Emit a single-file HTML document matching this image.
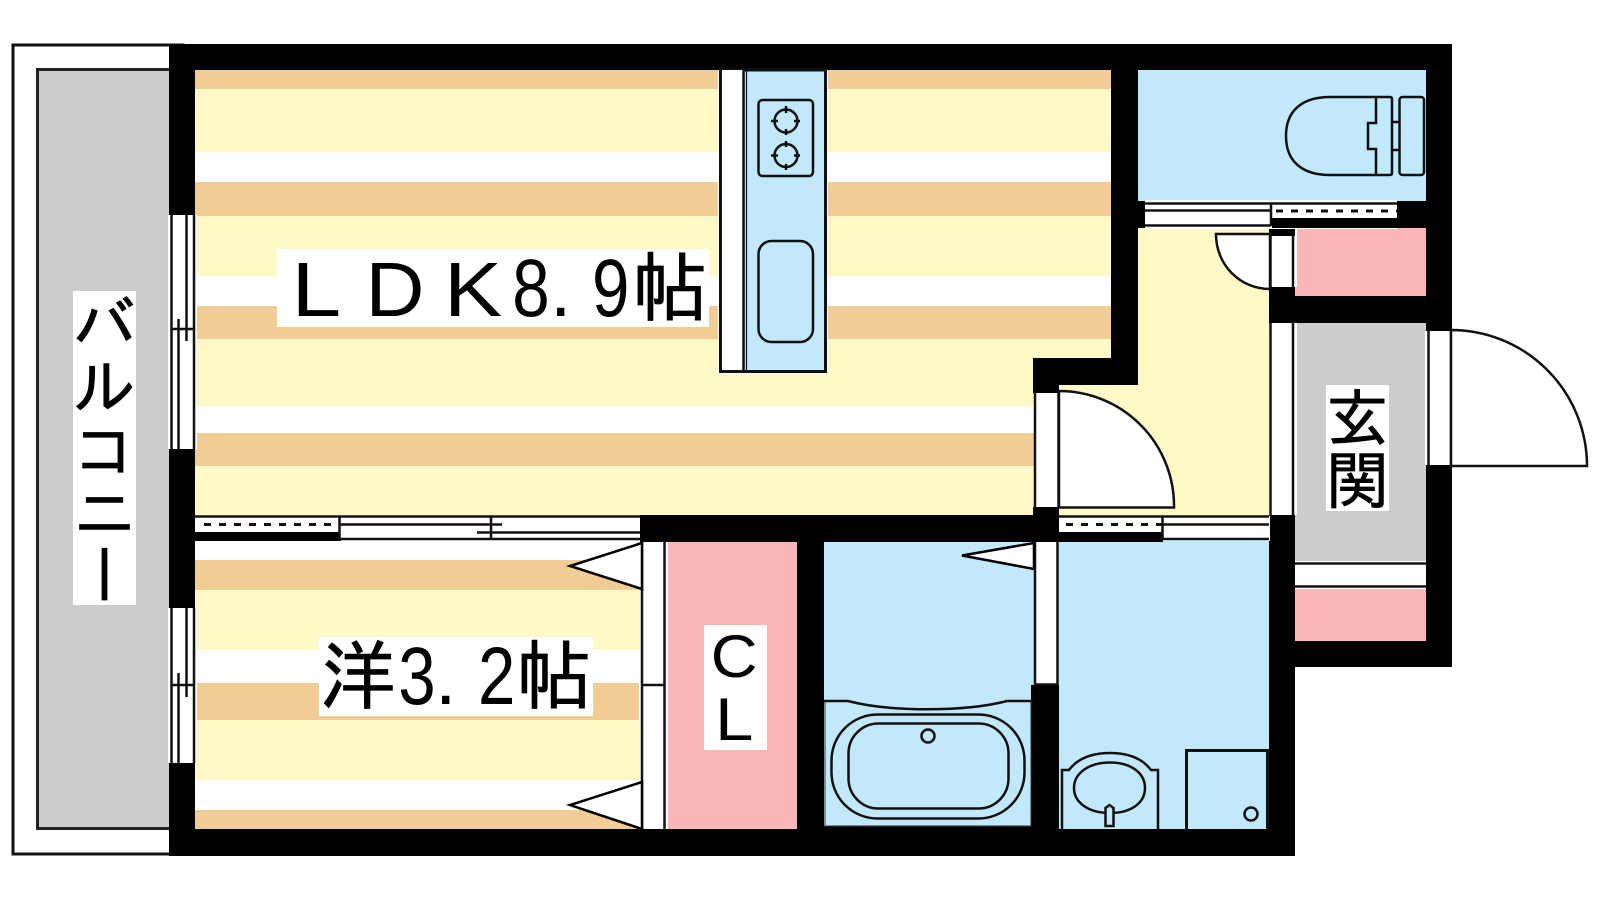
<!DOCTYPE html>
<html lang="ja"><head><meta charset="utf-8"><title>間取り図</title>
<style>
html,body{margin:0;padding:0;background:#fff;width:1600px;height:900px;overflow:hidden}
svg{position:absolute;left:0;top:0;display:block}
.v{position:absolute;writing-mode:vertical-rl;font-family:"IPAGothic","Noto Sans CJK JP",sans-serif;color:#000;background:#fff;text-align:center;line-height:63px;white-space:nowrap;-webkit-text-stroke:0.7px #000}
.l{font-family:"Liberation Sans",sans-serif;fill:#000}
.k{font-family:"IPAGothic","Noto Sans CJK JP",sans-serif;font-size:76px;fill:#000;stroke:#000;stroke-width:0.7px}
</style></head><body>
<svg width="1600" height="900" viewBox="0 0 1600 900" xmlns="http://www.w3.org/2000/svg">
<!-- Balcony -->
<rect x="13" y="45" width="170" height="809" fill="#fff" stroke="#111" stroke-width="3"/>
<rect x="37.500" y="69.500" width="140" height="759" fill="#ccc" stroke="#222" stroke-width="3"/>

<!-- LDK floor -->
<g>
<rect x="195" y="70" width="916" height="445" fill="#fff9c8"/>
<g fill="#f0cc96">
<rect x="195" y="70" width="916" height="19"/>
<rect x="195" y="182" width="916" height="34"/>
<rect x="195" y="306" width="916" height="33"/>
<rect x="195" y="433" width="916" height="33"/>
</g>
<g fill="#fff">
<rect x="195" y="152" width="916" height="30"/>
<rect x="195" y="276" width="916" height="30"/>
<rect x="195" y="406" width="916" height="27"/>
</g>
<rect x="718" y="70" width="110" height="304" fill="#fff"/>
</g>
<!-- Western floor -->
<rect x="195" y="541" width="445" height="288" fill="#fff9c8"/>
<g fill="#f0cc96"><rect x="195" y="560" width="445" height="30"/><rect x="195" y="683" width="445" height="37"/><rect x="195" y="810" width="445" height="19"/></g>
<g fill="#fff"><rect x="195" y="541" width="445" height="19"/><rect x="195" y="650" width="445" height="33"/><rect x="195" y="780" width="445" height="30"/></g>
<rect x="639" y="683" width="3" height="40" fill="#fff"/>

<!-- Corridor -->
<rect x="1138" y="228" width="132" height="288" fill="#fff9c8"/>
<rect x="1059" y="385" width="80" height="131" fill="#fff9c8"/>

<!-- Wet rooms -->
<rect x="1138" y="70" width="288" height="131" fill="#c2e9fb"/>
<rect x="824" y="542" width="210" height="287" fill="#c2e9fb"/>
<rect x="1059" y="541" width="211" height="288" fill="#c2e9fb"/>
<!-- Pink -->
<rect x="668" y="542" width="129" height="287" fill="#fbb6b8"/>
<rect x="1295" y="228" width="131" height="68" fill="#fbb6b8"/>
<rect x="1295" y="589" width="131" height="52" fill="#fbb6b8"/>
<!-- Entrance -->
<rect x="1295" y="322" width="131" height="239" fill="#ccc"/>

<!-- Walls -->
<g fill="#000">
<rect x="169" y="44" width="1283" height="26"/>
<rect x="169" y="44" width="26" height="171"/>
<rect x="169" y="449" width="26" height="159"/>
<rect x="169" y="763" width="26" height="93"/>
<rect x="169" y="829" width="1126" height="27"/>
<rect x="1111" y="44" width="27" height="341"/>
<rect x="1033" y="358" width="105" height="27"/>
<rect x="1033" y="358" width="26" height="35"/>
<rect x="1033" y="507" width="26" height="35"/>
<rect x="640" y="515" width="419" height="27"/>
<rect x="797" y="515" width="27" height="341"/>
<rect x="1031" y="685" width="28" height="171"/>
<rect x="1269" y="515" width="26" height="341"/>
<rect x="1426" y="44" width="26" height="287"/>
<rect x="1426" y="465" width="26" height="202"/>
<rect x="1295" y="641" width="157" height="26"/>
<rect x="1269" y="296" width="183" height="27"/>
<rect x="1269" y="287" width="26" height="10"/>
<rect x="1269" y="229" width="26" height="7"/>
<rect x="1397" y="201" width="29" height="27"/>
<rect x="1138" y="201" width="7" height="27"/>
</g>

<!-- Left windows -->
<g>
<rect x="168" y="215" width="29" height="234" fill="#fff"/>
<rect x="168" y="608" width="29" height="155" fill="#fff"/>
<g stroke="#111" stroke-width="2.500" fill="none">
<path d="M171.500 215V449M194 215V449M186.500 215V341M178.500 319V449M171 329H195"/>
<path d="M171.500 608V763M194 608V763M186.500 608V697M178.500 673V763M171 685H195"/>
</g>
</g>

<!-- Sliding door LDK / Western -->
<rect x="195" y="516" width="445" height="25" fill="#fff"/>
<rect x="195" y="532" width="145" height="9" fill="#000"/>
<g stroke="#111" stroke-width="2.500" fill="none">
<path d="M195 516.500H640M339.500 516V541M340 524.500H502M477 532.500H640M340 539H640M491 516V540"/>
<path d="M204 524.500H334" stroke-dasharray="7 8" stroke-width="3"/>
</g>

<!-- Closet door -->
<rect x="642" y="542" width="26" height="287" fill="#fff"/>
<rect x="666" y="542" width="2" height="287" fill="#fff"/>
<g stroke="#111" stroke-width="2.500" fill="none"><path d="M642 542V829M664.500 542V829M642 685H665"/></g>
<g fill="#fff" stroke="#000" stroke-width="2.500" stroke-linejoin="miter">
<path d="M642 543L570 566L642 589Z"/>
<path d="M642 782L570 805L642 829Z"/>
</g>

<!-- Kitchen -->
<rect x="720.500" y="70" width="105" height="301.500" fill="#c2e9fb" stroke="#111" stroke-width="3"/>
<rect x="722" y="70" width="21" height="300" fill="#fff"/>
<path d="M743.500 70V371" stroke="#111" stroke-width="2.500" fill="none"/>
<path d="M746.500 70V371" stroke="#111" stroke-width="1.200" fill="none"/>
<rect x="758.500" y="100" width="54.500" height="76" rx="4" fill="none" stroke="#111" stroke-width="2.500"/>
<rect x="758.500" y="241" width="54.500" height="101" rx="13" fill="none" stroke="#111" stroke-width="2.500"/>
<g fill="none" stroke="#111" stroke-width="2.500">
<circle cx="786" cy="121" r="11.500"/><circle cx="786" cy="155.500" r="11.500"/>
<path d="M786 106V113M786 129V135M771 121H778M794 121H800M786 141V147M786 164V170M771 155.500H778M794 155.500H800"/>
</g>

<!-- Toilet partition door -->
<rect x="1145" y="200" width="252" height="29" fill="#fff"/>
<g stroke="#111" stroke-width="2.500" fill="none">
<path d="M1145 203.500H1397M1145 210.500H1271M1145 225.500H1271M1271 203V226"/>
<path d="M1276 211H1397" stroke-dasharray="7 8" stroke-width="3"/>
</g>
<rect x="1272" y="218" width="125" height="10" fill="#000"/>

<!-- Toilet -->
<g fill="none" stroke="#111" stroke-width="2.500">
<path d="M1390 97Q1392 97 1392 99V173Q1392 175 1390 175H1330C1304 175 1286 163 1286 136C1286 109 1304 97 1330 97Z"/>
<path d="M1376 97V123H1368V149H1376V175"/>
<path d="M1392 122H1399M1392 150H1399"/>
<rect x="1399.500" y="97" width="24.500" height="78" rx="3"/>
</g>

<!-- Storage door + swing -->
<path d="M1216 234H1270V289C1240 289 1216 265 1216 234Z" fill="#fff" stroke="#111" stroke-width="2.500"/>
<rect x="1271" y="236" width="24" height="51" fill="#fff"/>
<path d="M1270.500 236V287M1293 236V287" stroke="#111" stroke-width="2.500"/>
<rect x="1295" y="229" width="2" height="58" fill="#fff"/>

<!-- Entrance left door -->
<rect x="1271" y="323" width="26" height="192" fill="#fff"/>
<path d="M1270.500 323V515M1293 323V515" stroke="#111" stroke-width="2.500"/>
<!-- Shoe cabinet -->
<rect x="1295" y="561" width="131" height="28" fill="#fff"/>
<path d="M1295 563.500H1426M1295 586.500H1426" stroke="#111" stroke-width="2.500"/>
<!-- Entry door -->
<rect x="1425" y="331" width="26" height="134" fill="#fff"/>
<path d="M1428.500 331V465M1451 331V465" stroke="#111" stroke-width="2.500"/>
<path d="M1451 330A136 136 0 0 1 1587 466H1451Z" fill="#fff" stroke="#111" stroke-width="2.500"/>

<!-- Door to bath corridor -->
<rect x="1034" y="393" width="26" height="114" fill="#fff"/>
<path d="M1035 393V507M1058.500 393V507" stroke="#111" stroke-width="2.500"/>
<path d="M1059 391A115 115 0 0 1 1174 507.500H1059Z" fill="#fff" stroke="#111" stroke-width="2.500"/>
<!-- Sliding door corridor / wash -->
<rect x="1059" y="516" width="211" height="25" fill="#fff"/>
<rect x="1059" y="532" width="104" height="10" fill="#000"/>
<g stroke="#111" stroke-width="2.500" fill="none">
<path d="M1059 516.500H1269M1162.500 516V540M1163 524.500H1269M1163 539H1269"/>
<path d="M1066 524.500H1162" stroke-dasharray="7 8" stroke-width="3"/>
</g>

<!-- Bath door -->
<rect x="1034" y="542" width="25" height="143" fill="#fff"/>
<path d="M1035 542V685M1057.500 542V685M1034 684.500H1058" stroke="#111" stroke-width="2.500" fill="none"/>
<path d="M1034 543L962 555.500L1034 569Z" fill="#fff" stroke="#000" stroke-width="2.500"/>

<!-- Bath unit -->
<rect x="824" y="826" width="207" height="3" fill="#000"/>
<path d="M824 701H848C890 712 965 712 1007 701H1033" fill="none" stroke="#111" stroke-width="2.500"/>
<path d="M825 701V826H1031V701" fill="none" stroke="#333" stroke-width="1"/>
<rect x="831.500" y="714.500" width="193" height="104" rx="46" fill="none" stroke="#111" stroke-width="2.500"/>
<rect x="848.500" y="723.500" width="160" height="85" rx="30" fill="none" stroke="#111" stroke-width="2.500"/>
<circle cx="928" cy="736" r="6.500" fill="none" stroke="#111" stroke-width="2.500"/>

<!-- Wash basin -->
<g fill="none" stroke="#111" stroke-width="2.500">
<path d="M1062 829V770H1069C1078 758 1092 753 1110 753C1128 753 1142 758 1151 770H1158V829"/>
<path d="M1110 762.500C1131 762.500 1145 773 1145 788C1145 803 1131 813 1110 813C1089 813 1074 803 1074 788C1074 773 1089 762.500 1110 762.500Z"/>
<path d="M1105.500 826V808L1109.500 805L1113.500 808V826Z" fill="#c2e9fb"/>
<path d="M1186.500 829V750.500H1267.500V829" stroke-width="3"/>
<circle cx="1251" cy="814" r="6.500"/>
</g>

<!-- LDK label -->
<rect x="277" y="249" width="432" height="78" fill="#fff"/>
<text class="l" font-size="77" transform="translate(291.500 316) scale(1.160 1)">L</text>
<text class="l" font-size="77" transform="translate(365.500 316) scale(1.060 1)">D</text>
<text class="l" font-size="77" transform="translate(444 316) scale(1.130 1)">K</text>
<text class="l" font-size="82" transform="translate(512.300 316) scale(0.820 1)">8</text>
<text class="l" font-size="77" x="550" y="316">.</text>
<text class="l" font-size="82" transform="translate(592 316) scale(0.820 1)">9</text>
<text class="k" x="632" y="315">帖</text>

<!-- Western label -->
<rect x="319" y="637" width="274" height="79" fill="#fff"/>
<text class="k" x="320" y="703">洋</text>
<text class="l" font-size="82" transform="translate(398.300 704) scale(0.820 1)">3</text>
<text class="l" font-size="77" x="435" y="704">.</text>
<text class="l" font-size="82" transform="translate(478 704) scale(0.820 1)">2</text>
<text class="k" x="516" y="703">帖</text>

<!-- CL label -->
<rect x="704" y="625" width="63" height="125" fill="#fff"/>
<text class="l" font-size="60" transform="translate(710.800 677) scale(1.080 1)">C</text>
<text class="l" font-size="60" transform="translate(715 740) scale(1.150 1)">L</text>
</svg>
<div class="v" style="left:73px;top:291px;width:63px;height:314px;font-size:63px">バルコニー</div>
<div class="v" style="left:1326px;top:385px;width:63px;height:126px;font-size:63px">玄関</div>
</body></html>
